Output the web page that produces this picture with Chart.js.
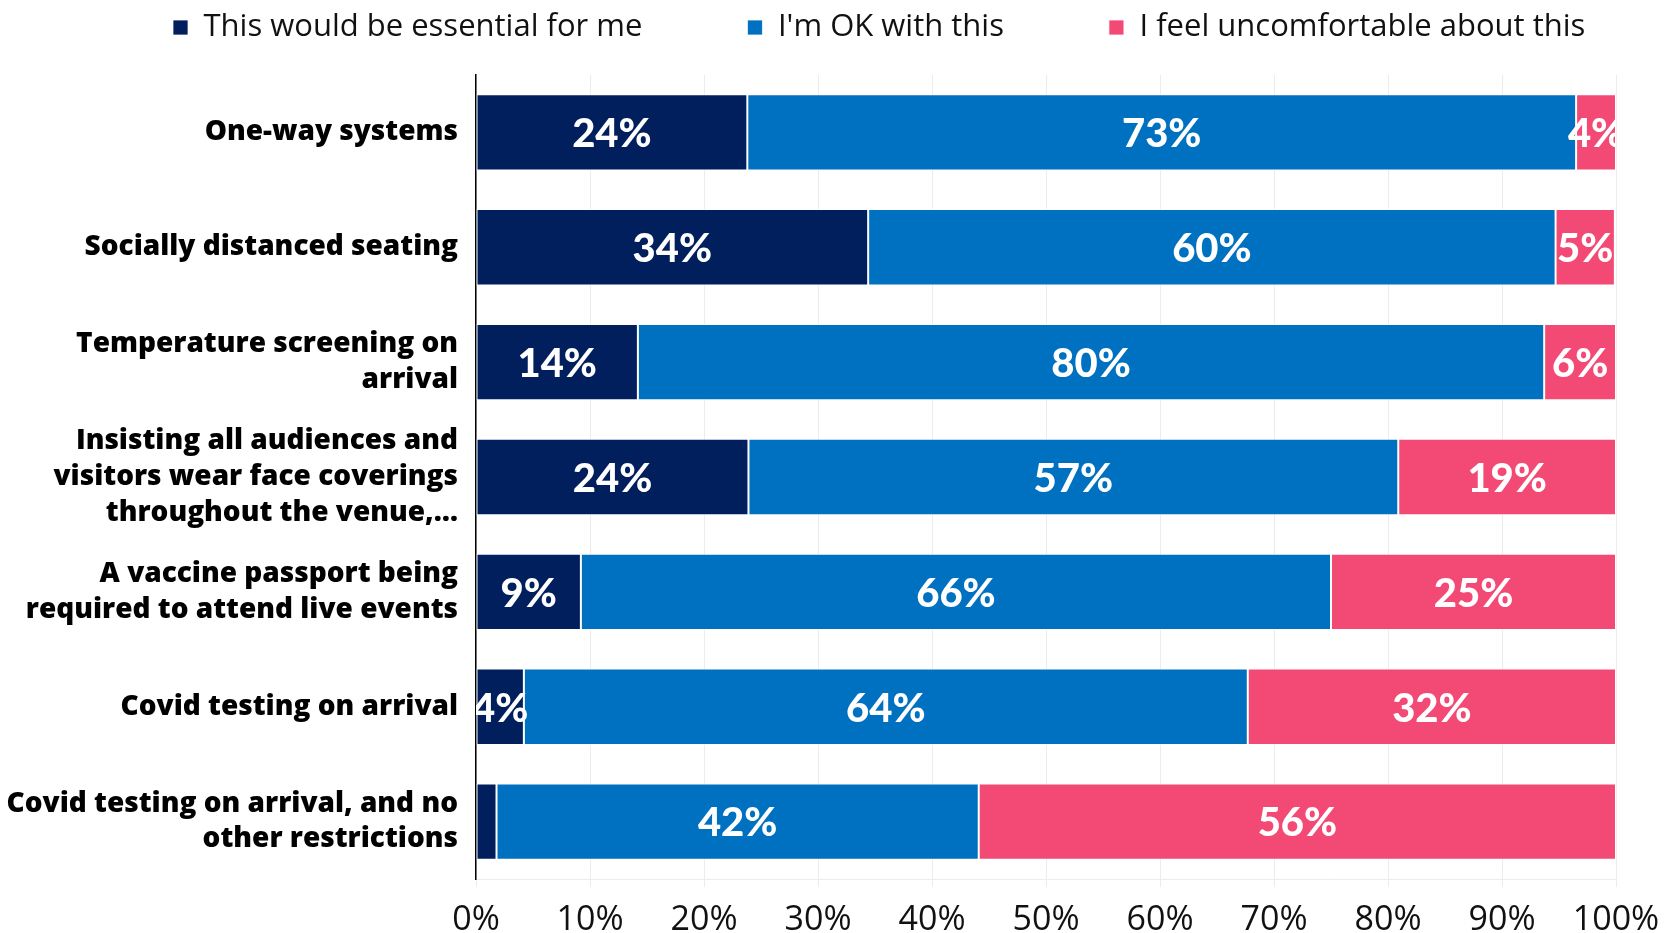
<!DOCTYPE html>
<html>
<script src="https://cdn.jsdelivr.net/npm/chart.js@4/dist/chart.umd.min.js"></script>
<body style="margin:0;background:#fff;">
<div style="width:1665px;height:933px;position:relative">
<canvas id="attitudeChart"></canvas>
</div>

<script>
var categories = [
  ['One-way systems'],
  ['Socially distanced seating'],
  ['Temperature screening on', 'arrival'],
  ['Insisting all audiences and', 'visitors wear face coverings', 'throughout the venue,\u2026'],
  ['A vaccine passport being', 'required to attend live events'],
  ['Covid testing on arrival'],
  ['Covid testing on arrival, and no', 'other restrictions']
];
var essential = [23.8, 34.4, 14.2, 23.9, 9.2, 4.2, 1.8];
var okWith = [72.7, 60.3, 79.5, 57.0, 65.8, 63.5, 42.3];
var uncomfortable = [3.5, 5.2, 6.3, 19.1, 25.0, 32.3, 55.9];
var seriesNames = ['This would be essential for me', "I'm OK with this", 'I feel uncomfortable about this'];
var tickValues = [0, 10, 20, 30, 40, 50, 60, 70, 80, 90, 100];

var SANS = '"Open Sans", Lato, sans-serif';
var LEGEND_X = 173;

// white % labels centred in each segment, clipped to the plot area
var barLabels = {
  id: 'barLabels',
  afterDatasetsDraw(chart) {
    var ctx = chart.ctx, area = chart.chartArea;
    ctx.save();
    ctx.beginPath();
    ctx.rect(area.left, area.top, area.right - area.left, area.bottom - area.top);
    ctx.clip();
    ctx.fillStyle = '#fff';
    ctx.font = '900 40px Lato, sans-serif';
    ctx.textAlign = 'center';
    ctx.textBaseline = 'middle';
    chart.data.datasets.forEach(function(ds, i) {
      chart.getDatasetMeta(i).data.forEach(function(bar, j) {
        var v = ds.data[j];
        if (v < 3) return;
        ctx.fillText(Math.round(v) + '%', (bar.base + bar.x) / 2, bar.y + 2);
      });
    });
    ctx.restore();
  }
};

// legend: fixed height, and starts at a set x like the original
var legendPlace = {
  id: 'legendPlace',
  afterInit(chart) {
    var lg = chart.legend;
    if (!lg) return;
    var fit = lg.fit;
    lg.fit = function() { fit.call(this); this.height = 75; };
  },
  afterLayout(chart) {
    var lg = chart.legend;
    if (!lg) return;
    lg.left = LEGEND_X - lg.options.labels.padding;
    lg.right = chart.width;
  }
};

new Chart('attitudeChart', {
  type: 'bar',
  data: {
    labels: categories,
    datasets: [
      { label: seriesNames[0], data: essential, backgroundColor: '#001F5C' },
      { label: seriesNames[1], data: okWith, backgroundColor: '#0070C0' },
      { label: seriesNames[2], data: uncomfortable, backgroundColor: '#F24A74' }
    ]
  },
  options: {
    indexAxis: 'y',
    responsive: true,
    maintainAspectRatio: false,
    animation: false,
    layout: { padding: { top: 0, right: 49, bottom: 0, left: 0 } },
    datasets: {
      bar: {
        barPercentage: 0.665,
        categoryPercentage: 1,
        borderWidth: 1,
        borderColor: 'rgba(255,255,255,0.75)',
        borderSkipped: false
      }
    },
    plugins: {
      legend: {
        position: 'top',
        align: 'start',
        labels: {
          boxWidth: 15,
          boxHeight: 15,
          padding: 12,
          color: '#111',
          font: { family: SANS, size: 31 },
          generateLabels: function(chart) {
            var items = Chart.defaults.plugins.legend.labels.generateLabels(chart);
            items.forEach(function(it, k) {
              if (k < items.length - 1) it.text = it.text + '\u2003\u2003\u2003';
            });
            return items;
          }
        }
      },
      tooltip: { enabled: false }
    },
    scales: {
      x: {
        stacked: true,
        min: 0,
        max: 100,
        afterBuildTicks: function(scale) {
          scale.ticks = tickValues.map(function(v) { return { value: v }; });
        },
        afterFit: function(scale) {
          scale.height = 54;
          scale.paddingLeft = 0;
          scale.paddingRight = 0;
        },
        ticks: {
          color: '#111',
          padding: 13,
          font: { family: SANS, size: 34 },
          callback: function(v) { return v + '%'; }
        },
        grid: { color: '#ececec', tickLength: 8 },
        border: { color: '#ececec' }
      },
      y: {
        stacked: true,
        afterFit: function(scale) { scale.width = 476; },
        ticks: {
          color: '#000',
          padding: 10,
          font: { family: SANS, size: 28, weight: 800, lineHeight: 1.28 }
        },
        grid: { display: false },
        border: { color: '#000', width: 1.5 }
      }
    }
  },
  plugins: [barLabels, legendPlace]
});
</script>
</body>
</html>
